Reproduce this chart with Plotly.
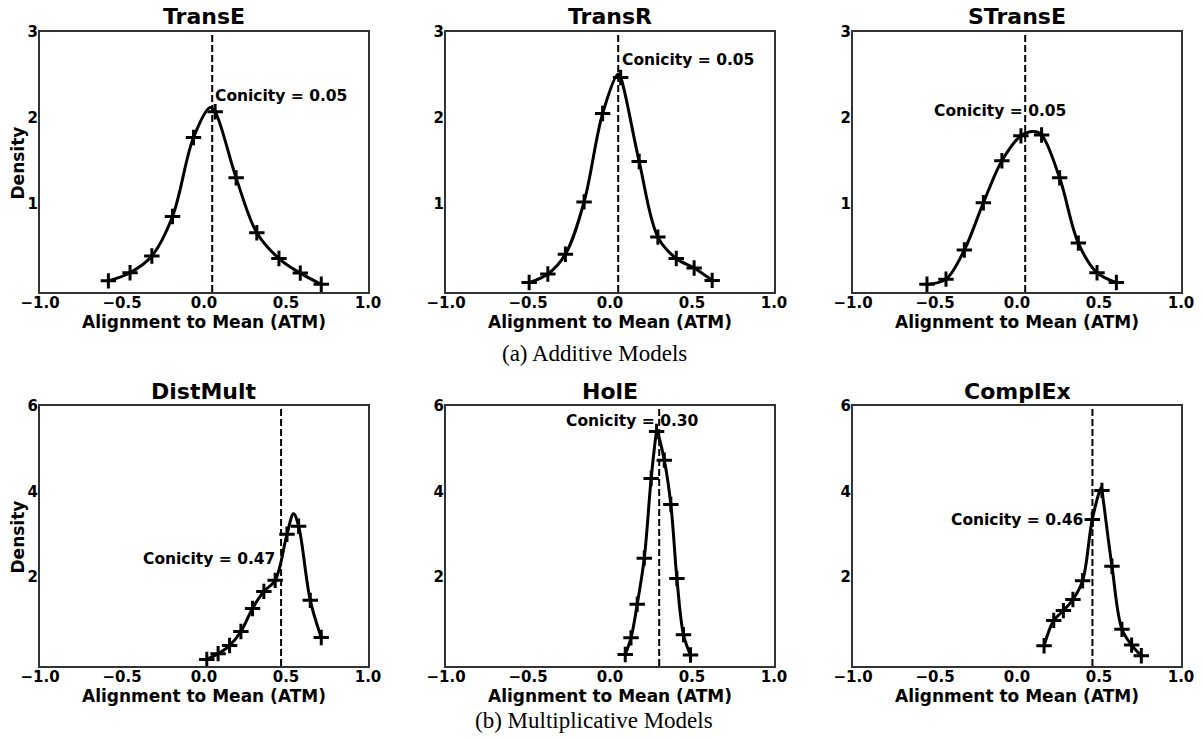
import plotly.graph_objects as go

# ---------------- data ----------------
models = ["TransE", "TransR", "STransE", "DistMult", "HolE", "ComplEx"]
conicity = [0.05, 0.05, 0.05, 0.47, 0.30, 0.46]
conicity_labels = ["Conicity = 0.05", "Conicity = 0.05", "Conicity = 0.05",
                   "Conicity = 0.47", "Conicity = 0.30", "Conicity = 0.46"]

transe_x = [-0.583, -0.451, -0.318, -0.192, -0.064, 0.068, 0.196, 0.322, 0.457, 0.587, 0.715]
transe_y = [0.10, 0.195, 0.39, 0.85, 1.77, 2.07, 1.30, 0.66, 0.36, 0.19, 0.06]
transr_x = [-0.493, -0.379, -0.272, -0.158, -0.045, 0.065, 0.178, 0.292, 0.404, 0.513, 0.623]
transr_y = [0.08, 0.18, 0.41, 1.02, 2.05, 2.47, 1.49, 0.61, 0.36, 0.25, 0.105]
stranse_x = [-0.549, -0.433, -0.321, -0.205, -0.092, 0.024, 0.150, 0.260, 0.374, 0.488, 0.606]
stranse_y = [0.06, 0.12, 0.46, 1.01, 1.50, 1.79, 1.80, 1.30, 0.54, 0.195, 0.08]
distmult_x = [0.017, 0.086, 0.156, 0.225, 0.296, 0.365, 0.434, 0.506, 0.577, 0.648, 0.715]
distmult_y = [0.055, 0.19, 0.38, 0.71, 1.25, 1.65, 1.91, 2.99, 3.18, 1.44, 0.57]
hole_x = [0.093, 0.128, 0.166, 0.209, 0.251, 0.284, 0.331, 0.371, 0.408, 0.448, 0.491]
hole_y = [0.17, 0.56, 1.35, 2.43, 4.30, 5.40, 4.73, 3.69, 1.95, 0.635, 0.157]
complex_x = [0.165, 0.224, 0.283, 0.341, 0.400, 0.459, 0.518, 0.579, 0.640, 0.699, 0.758]
complex_y = [0.375, 0.97, 1.20, 1.46, 1.90, 3.34, 4.02, 2.24, 0.76, 0.39, 0.14]

# curve peaks (curve passes above the markers there)
peak_x = [0.038, 0.05, 0.102, 0.546, 0.286, 0.514]
peak_y = [2.12, 2.51, 1.84, 3.47, 5.42, 4.10]

series_x = [transe_x, transr_x, stranse_x, distmult_x, hole_x, complex_x]
series_y = [transe_y, transr_y, stranse_y, distmult_y, hole_y, complex_y]

# annotation placement (data coords)
ann_x = [0.054, 0.061, -0.106, 0.445, 0.136, 0.417]
ann_y = [2.26, 2.67, 2.08, 2.42, 5.65, 3.32]
ann_anchor = ["left", "left", "center", "right", "center", "right"]

x_tickvals = [-1.0, -0.5, 0.0, 0.5, 1.0]
x_ticktext = ["\u22121.0", "\u22120.5", "0.0", "0.5", "1.0"]
top_tickvals = [1, 2, 3]
bottom_tickvals = [2, 4, 6]
top_range = [-0.03, 3]
bottom_range = [-0.1, 6]

captions = ["(a) Additive Models", "(b) Multiplicative Models"]

# ---------------- layout ----------------
W, H = 1202, 738
FONT = "DejaVu Sans"
col_px = [(40, 368), (446, 774), (853, 1181)]
row_px = [(32, 292), (406, 666)]

fig = go.Figure()
layout = dict(
    width=W, height=H, margin=dict(l=0, r=0, t=0, b=0, pad=0, autoexpand=False),
    paper_bgcolor="white", plot_bgcolor="white", showlegend=False,
    font=dict(family=FONT, color="black", weight="bold"),
)
annotations = []
shapes = []

for i, name in enumerate(models):
    r, c = divmod(i, 3)
    n = i + 1
    xa = "xaxis" if n == 1 else f"xaxis{n}"
    ya = "yaxis" if n == 1 else f"yaxis{n}"
    xr = "x" if n == 1 else f"x{n}"
    yr = "y" if n == 1 else f"y{n}"
    x0, x1 = col_px[c]
    y0, y1 = row_px[r]
    layout[xa] = dict(
        domain=[x0 / W, x1 / W], anchor=yr, range=[-1, 1], automargin=False,
        tickvals=x_tickvals, ticktext=x_ticktext, ticks="",
        showgrid=False, zeroline=False, showline=True, mirror=True,
        linecolor="#333333", linewidth=2,
        tickfont=dict(family=FONT, size=15, color="black", weight="bold"),
        title=dict(text="Alignment to Mean (ATM)", standoff=2,
                   font=dict(family=FONT, size=17, color="black", weight="bold")),
        ticklabelstandoff=-4,
    )
    yrng = top_range if r == 0 else bottom_range
    ytv = top_tickvals if r == 0 else bottom_tickvals
    layout[ya] = dict(
        domain=[1 - y1 / H, 1 - y0 / H], anchor=xr, range=yrng, automargin=False,
        tickvals=ytv, ticktext=[str(v) for v in ytv], ticks="",
        showgrid=False, zeroline=False, showline=True, mirror=True,
        linecolor="#333333", linewidth=2,
        tickfont=dict(family=FONT, size=15, color="black", weight="bold"),
        ticklabelstandoff=-3,
    )
    if c == 0:
        annotations.append(dict(
            x=17.5 / W, y=1 - ((y0 + y1) / 2 + 1) / H, xref="paper", yref="paper",
            text="Density", textangle=-90, showarrow=False,
            xanchor="center", yanchor="middle",
            font=dict(family=FONT, size=17, color="black", weight="bold")))

    # curve through markers + peak
    pts = sorted(zip(series_x[i] + [peak_x[i]], series_y[i] + [peak_y[i]]))
    fig.add_trace(go.Scatter(
        x=[p[0] for p in pts], y=[p[1] for p in pts], mode="lines",
        line=dict(color="black", width=3, shape="spline", smoothing=1.0),
        xaxis=xr, yaxis=yr, hoverinfo="skip"))
    fig.add_trace(go.Scatter(
        x=series_x[i], y=series_y[i], mode="markers",
        marker=dict(symbol="cross-thin", size=11, color="black",
                    line=dict(color="black", width=3)),
        xaxis=xr, yaxis=yr))

    shapes.append(dict(type="line", xref=xr, yref=f"{yr} domain",
                       x0=conicity[i], x1=conicity[i], y0=0, y1=1,
                       line=dict(color="black", width=2, dash="7px,3px")))

    annotations.append(dict(
        x=ann_x[i], y=ann_y[i], xref=xr, yref=yr, text=conicity_labels[i],
        showarrow=False, xanchor=ann_anchor[i], yanchor="middle",
        font=dict(family=FONT, size=15.5, color="black", weight="bold")))

    annotations.append(dict(
        x=(x0 + x1) / 2 / W, y=1 - (y0 - 15) / H, xref="paper", yref="paper",
        text=name, showarrow=False, xanchor="center", yanchor="middle",
        font=dict(family=FONT, size=22, color="black", weight="bold")))

for k, cap in enumerate(captions):
    cy = 353 if k == 0 else 720
    annotations.append(dict(
        x=594 / W, y=1 - cy / H, xref="paper", yref="paper", text=cap,
        showarrow=False, xanchor="center", yanchor="middle",
        font=dict(family="Liberation Serif", size=23, color="black", weight="normal")))

layout["annotations"] = annotations
layout["shapes"] = shapes
fig.update_layout(**layout)
fig.write_html("out.html", config={"displayModeBar": False},
               post_script="document.body.style.margin='0';document.body.style.overflow='hidden';")
